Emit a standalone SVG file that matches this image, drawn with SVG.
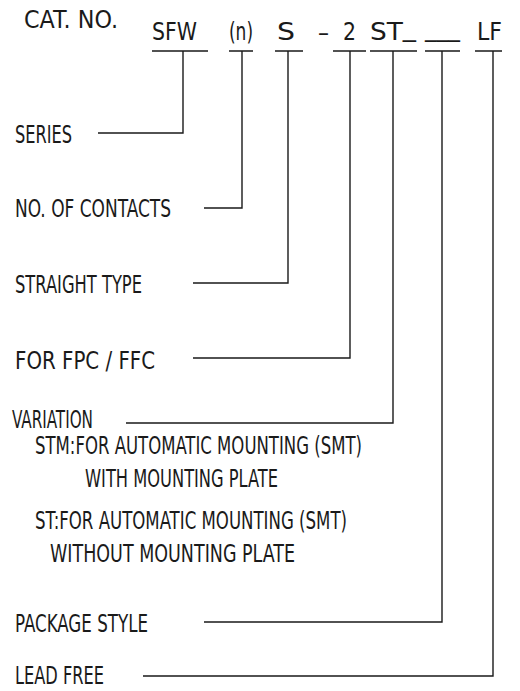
<svg xmlns="http://www.w3.org/2000/svg" width="520" height="691" viewBox="0 0 520 691">
<style>
text{font-family:"Liberation Sans Narrow","DejaVu Sans Condensed","Liberation Sans",Arial,sans-serif;font-size:25px;fill:#1a1a1a}
.ln{fill:none;stroke:#1a1a1a;stroke-width:1.4}
</style>
<rect width="520" height="691" fill="#fff"/>
<g id="header">
<text x="24" y="28" textLength="94" lengthAdjust="spacingAndGlyphs">CAT. NO.</text>
</g>
<g id="code-sfw"><text x="152" y="40" textLength="45" lengthAdjust="spacingAndGlyphs">SFW</text></g>
<g id="code-n"><text x="229" y="40" textLength="24" lengthAdjust="spacingAndGlyphs">(n)</text></g>
<g id="code-s"><text x="277" y="40" textLength="18" lengthAdjust="spacingAndGlyphs">S</text></g>
<g id="code-dash"><text x="318" y="41" textLength="11" lengthAdjust="spacingAndGlyphs">–</text></g>
<g id="code-2"><text x="343" y="40" textLength="13" lengthAdjust="spacingAndGlyphs">2</text></g>
<g id="code-st"><text x="370" y="40" textLength="46" lengthAdjust="spacingAndGlyphs">ST<tspan dy="-4">_</tspan></text></g>
<g id="code-pkg"><text x="425" y="36" textLength="35" lengthAdjust="spacingAndGlyphs">___</text></g>
<g id="code-lf"><text x="477" y="40" textLength="25" lengthAdjust="spacingAndGlyphs">LF</text></g>

<g id="label-series"><text x="15" y="143" textLength="57" lengthAdjust="spacingAndGlyphs">SERIES</text></g>
<g id="label-contacts"><text x="15" y="217" textLength="156" lengthAdjust="spacingAndGlyphs">NO. OF CONTACTS</text></g>
<g id="label-straight"><text x="15" y="293" textLength="127" lengthAdjust="spacingAndGlyphs">STRAIGHT TYPE</text></g>
<g id="label-fpc"><text x="15" y="369" textLength="140" lengthAdjust="spacingAndGlyphs">FOR FPC / FFC</text></g>
<g id="label-variation">
<text x="12" y="428" textLength="81" lengthAdjust="spacingAndGlyphs">VARIATION</text>
<text x="35" y="454" textLength="327" lengthAdjust="spacingAndGlyphs">STM:FOR AUTOMATIC MOUNTING (SMT)</text>
<text x="85" y="487" textLength="193" lengthAdjust="spacingAndGlyphs">WITH MOUNTING PLATE</text>
<text x="35" y="529" textLength="312" lengthAdjust="spacingAndGlyphs">ST:FOR AUTOMATIC MOUNTING (SMT)</text>
<text x="50" y="562" textLength="245" lengthAdjust="spacingAndGlyphs">WITHOUT MOUNTING PLATE</text>
</g>
<g id="label-package"><text x="15" y="632" textLength="133" lengthAdjust="spacingAndGlyphs">PACKAGE STYLE</text></g>
<g id="label-leadfree"><text x="15" y="684" textLength="89" lengthAdjust="spacingAndGlyphs">LEAD FREE</text></g>

<g id="connectors" class="ln">
<path d="M152,51H208M183,51V133H98"/>
<path d="M229,51H253M242,51V208H204"/>
<path d="M275,51H303M288,51V283H193"/>
<path d="M333,51H366M350,51V358H193"/>
<path d="M370,51H417M393,51V423H126"/>
<path d="M425,51H460M442,51V622H204"/>
<path d="M475,51H502M493,51V676H143"/>
</g>
</svg>
